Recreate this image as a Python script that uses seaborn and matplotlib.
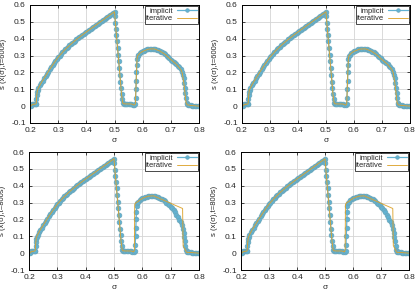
import numpy as np
import pandas as pd
import seaborn as sns
import matplotlib
matplotlib.use('Agg')
import matplotlib.pyplot as plt

# ---------------------------------------------------------------------------------------
# data
# ---------------------------------------------------------------------------------------

sigma_imp = [
    0.200, 0.205, 0.208, 0.211, 0.214, 0.217, 0.220, 0.222, 0.223, 0.224, 0.225, 0.227,
    0.230, 0.235, 0.240, 0.245, 0.250, 0.255, 0.260, 0.265, 0.270, 0.275, 0.280, 0.285,
    0.290, 0.295, 0.300, 0.305, 0.310, 0.315, 0.320, 0.325, 0.330, 0.335, 0.340, 0.345,
    0.350, 0.355, 0.360, 0.365, 0.370, 0.375, 0.380, 0.385, 0.390, 0.395, 0.400, 0.405,
    0.410, 0.415, 0.420, 0.425, 0.430, 0.435, 0.440, 0.445, 0.450, 0.455, 0.460, 0.465,
    0.470, 0.475, 0.480, 0.485, 0.490, 0.495, 0.500,
    0.501, 0.503, 0.505, 0.507, 0.509, 0.511, 0.513, 0.515, 0.517, 0.519, 0.521, 0.523,
    0.525, 0.527, 0.529, 0.532, 0.536, 0.540, 0.545, 0.550, 0.555, 0.560, 0.565, 0.570,
    0.574, 0.575, 0.576, 0.577, 0.578, 0.579, 0.580, 0.582, 0.585, 0.590, 0.595, 0.600,
    0.605, 0.610, 0.615, 0.620, 0.625, 0.630, 0.635, 0.640, 0.645, 0.650, 0.655, 0.660,
    0.665, 0.670, 0.675, 0.680, 0.685, 0.690, 0.695, 0.700, 0.705, 0.710, 0.715, 0.720,
    0.725, 0.730, 0.735, 0.740, 0.743, 0.746, 0.748, 0.750, 0.752, 0.754, 0.756, 0.758,
    0.760, 0.765, 0.770, 0.775, 0.780, 0.785, 0.790, 0.795, 0.800,
]

s_imp_600 = [
    0.002, 0.003, 0.010, 0.012, 0.012, 0.013, 0.012, 0.015, 0.040, 0.065, 0.085, 0.098,
    0.108, 0.124, 0.139, 0.152, 0.165, 0.179, 0.192, 0.205, 0.218, 0.231, 0.243, 0.255,
    0.267, 0.279, 0.290, 0.300, 0.310, 0.319, 0.328, 0.337, 0.345, 0.353, 0.360, 0.368,
    0.375, 0.382, 0.389, 0.396, 0.402, 0.409, 0.415, 0.422, 0.428, 0.434, 0.440, 0.446,
    0.452, 0.458, 0.464, 0.470, 0.476, 0.482, 0.488, 0.494, 0.500, 0.506, 0.512, 0.518,
    0.524, 0.530, 0.536, 0.542, 0.548, 0.554, 0.560,
    0.535, 0.495, 0.455, 0.420, 0.385, 0.345, 0.305, 0.265, 0.225, 0.185, 0.145, 0.105,
    0.070, 0.040, 0.020, 0.014, 0.012, 0.013, 0.015, 0.013, 0.010, 0.013, 0.009, 0.006,
    0.012, 0.050, 0.100, 0.150, 0.200, 0.245, 0.280, 0.298, 0.306, 0.314, 0.320, 0.325,
    0.329, 0.333, 0.336, 0.338, 0.340, 0.341, 0.341, 0.340, 0.338, 0.335, 0.332, 0.328,
    0.324, 0.319, 0.313, 0.307, 0.300, 0.292, 0.284, 0.276, 0.269, 0.262, 0.255, 0.248,
    0.240, 0.230, 0.218, 0.200, 0.185, 0.165, 0.140, 0.110, 0.080, 0.050, 0.020, 0.010,
    0.006, 0.005, 0.004, 0.003, 0.002, 0.002, 0.001, 0.001, 0.000,
]

s_imp_800 = [
    0.002, 0.003, 0.010, 0.012, 0.012, 0.013, 0.012, 0.015, 0.040, 0.065, 0.085, 0.098,
    0.108, 0.124, 0.139, 0.152, 0.165, 0.179, 0.192, 0.205, 0.218, 0.231, 0.243, 0.255,
    0.267, 0.279, 0.290, 0.300, 0.310, 0.319, 0.328, 0.337, 0.345, 0.353, 0.360, 0.368,
    0.375, 0.382, 0.389, 0.396, 0.402, 0.409, 0.415, 0.422, 0.428, 0.434, 0.440, 0.446,
    0.452, 0.458, 0.464, 0.470, 0.476, 0.482, 0.488, 0.494, 0.500, 0.506, 0.512, 0.518,
    0.524, 0.530, 0.536, 0.542, 0.548, 0.554, 0.560,
    0.535, 0.495, 0.455, 0.420, 0.385, 0.345, 0.305, 0.265, 0.225, 0.185, 0.145, 0.105,
    0.070, 0.040, 0.020, 0.014, 0.012, 0.013, 0.015, 0.013, 0.010, 0.013, 0.009, 0.006,
    0.012, 0.050, 0.100, 0.150, 0.200, 0.245, 0.280, 0.298, 0.306, 0.314, 0.320, 0.325,
    0.329, 0.333, 0.336, 0.338, 0.340, 0.341, 0.341, 0.340, 0.338, 0.335, 0.332, 0.328,
    0.324, 0.319, 0.313, 0.307, 0.300, 0.292, 0.284, 0.275, 0.265, 0.254, 0.242, 0.229,
    0.215, 0.199, 0.183, 0.165, 0.145, 0.120, 0.095, 0.070, 0.045, 0.020, 0.010, 0.008,
    0.006, 0.005, 0.004, 0.003, 0.002, 0.002, 0.001, 0.001, 0.000,
]

sigma_it_600 = [
    0.200, 0.205, 0.208, 0.220, 0.222, 0.224, 0.226, 0.230, 0.240, 0.250, 0.260, 0.270,
    0.280, 0.290, 0.300, 0.320, 0.340, 0.360, 0.380, 0.400, 0.420, 0.440, 0.460, 0.480,
    0.500, 0.505, 0.515, 0.525, 0.529, 0.532, 0.540, 0.550, 0.560, 0.570, 0.574, 0.576,
    0.578, 0.580, 0.582, 0.590, 0.600, 0.620, 0.640, 0.660, 0.680, 0.700, 0.720, 0.735,
    0.740, 0.746, 0.750, 0.754, 0.758, 0.770, 0.800,
]
s_it_600 = [
    0.002, 0.003, 0.010, 0.012, 0.015, 0.065, 0.092, 0.108, 0.139, 0.165, 0.192, 0.218,
    0.243, 0.267, 0.290, 0.328, 0.360, 0.389, 0.415, 0.440, 0.464, 0.488, 0.512, 0.536,
    0.560, 0.455, 0.265, 0.070, 0.020, 0.014, 0.013, 0.013, 0.013, 0.006, 0.012, 0.100,
    0.200, 0.280, 0.298, 0.314, 0.325, 0.338, 0.340, 0.328, 0.307, 0.276, 0.248, 0.218,
    0.200, 0.140, 0.080, 0.020, 0.008, 0.004, 0.000,
]

sigma_it_800 = [
    0.200, 0.205, 0.208, 0.220, 0.222, 0.224, 0.226, 0.230, 0.240, 0.250, 0.260, 0.270,
    0.280, 0.290, 0.300, 0.320, 0.340, 0.360, 0.380, 0.400, 0.420, 0.440, 0.460, 0.480,
    0.500, 0.505, 0.515, 0.525, 0.529, 0.532, 0.540, 0.550, 0.560, 0.570, 0.572, 0.573,
    0.578, 0.585, 0.590, 0.600, 0.620, 0.640, 0.742, 0.744, 0.756, 0.770, 0.800,
]
s_it_800 = [
    0.002, 0.003, 0.010, 0.012, 0.015, 0.065, 0.092, 0.108, 0.139, 0.165, 0.192, 0.218,
    0.243, 0.267, 0.290, 0.328, 0.360, 0.389, 0.415, 0.440, 0.464, 0.488, 0.512, 0.536,
    0.560, 0.455, 0.265, 0.070, 0.020, 0.014, 0.013, 0.013, 0.013, 0.008, 0.020, 0.290,
    0.300, 0.306, 0.314, 0.325, 0.338, 0.340, 0.265, 0.045, 0.005, 0.004, 0.000,
]

ylabels = ['s (x(σ),t=600s)', 's (x(σ),t=600s)', 's (x(σ),t=800s)', 's (x(σ),t=800s)']
xticks = [0.2, 0.3, 0.4, 0.5, 0.6, 0.7, 0.8]
yticks = [-0.1, 0, 0.1, 0.2, 0.3, 0.4, 0.5, 0.6]

# ---------------------------------------------------------------------------------------
# plotting
# ---------------------------------------------------------------------------------------

sns.set_style('ticks')
plt.rcParams['font.family'] = ['Liberation Sans', 'DejaVu Sans']

blue = '#62b2d2'
orange = '#dca22a'

fig = plt.figure(figsize=(4.18, 2.92), dpi=100)
boxes = [
    [0.0718, 0.5788, 0.4043, 0.4041],
    [0.5789, 0.5788, 0.4019, 0.4041],
    [0.0694, 0.0753, 0.4067, 0.4041],
    [0.5766, 0.0753, 0.4019, 0.4041],
]

panels = [
    (s_imp_600, sigma_it_600, s_it_600),
    (s_imp_600, sigma_it_600, s_it_600),
    (s_imp_800, sigma_it_800, s_it_800),
    (s_imp_800, sigma_it_800, s_it_800),
]

for box, (s_imp, sig_it, s_it), ylab in zip(boxes, panels, ylabels):
    ax = fig.add_axes(box)
    imp = pd.DataFrame({'sigma': sigma_imp, 's': s_imp})
    it = pd.DataFrame({'sigma': sig_it, 's': s_it})
    sns.lineplot(data=imp, x='sigma', y='s', ax=ax, sort=False, estimator=None,
                 color=blue, lw=0.9, marker='o', markersize=3.4,
                 markeredgecolor='#6aa7bb', markeredgewidth=0.5, label='implicit')
    sns.lineplot(data=it, x='sigma', y='s', ax=ax, sort=False, estimator=None,
                 color=orange, lw=0.7, alpha=0.9, label='iterative')

    ax.set_xlim(0.2, 0.8)
    ax.set_ylim(-0.1, 0.6)
    ax.set_xticks(xticks)
    ax.set_yticks(yticks)
    ax.set_xticklabels([f'{v:g}' for v in xticks])
    ax.set_yticklabels([f'{v:g}' for v in yticks])
    ax.grid(True, color='#d4d4d4', lw=0.6)
    ax.set_axisbelow(True)
    ax.tick_params(direction='in', top=True, right=True, length=2.5, width=0.6,
                   labelsize=6, pad=3)
    for sp in ax.spines.values():
        sp.set_linewidth(0.7)
        sp.set_color('black')
    ax.set_xlabel('σ', fontsize=6, labelpad=2)
    ax.set_ylabel(ylab, fontsize=5.5, labelpad=3)

    leg = ax.legend(loc='upper right', fontsize=5.5, markerfirst=False, frameon=True,
                    fancybox=False, framealpha=1, edgecolor='black',
                    borderaxespad=0.15, borderpad=0.15, labelspacing=0.05,
                    handlelength=2.6, handletextpad=0.5)
    leg.get_frame().set_linewidth(0.5)
    for h in leg.legend_handles:
        h.set_markersize(2.6)

plt.savefig('out.png', dpi=100)
